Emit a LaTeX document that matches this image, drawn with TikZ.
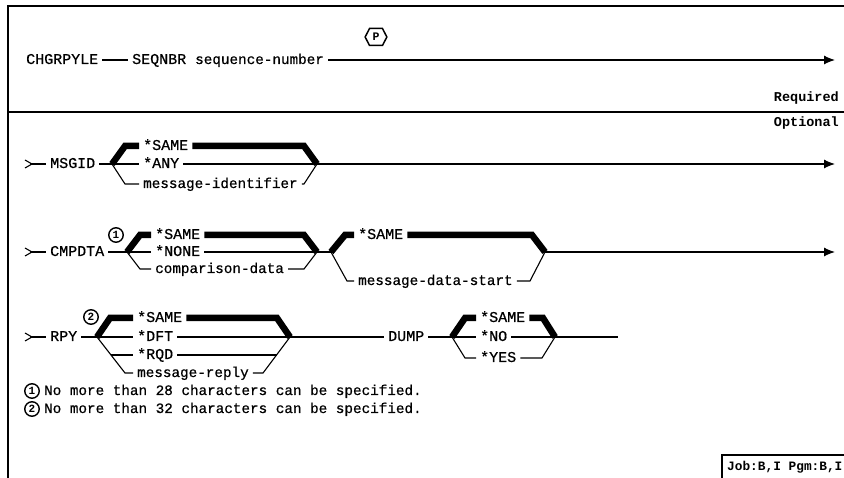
\documentclass[tikz,border=0pt]{standalone}
\usepackage{fontspec}
\newfontfamily\synfont[FakeBold=0.6]{Liberation Mono}
\newfontfamily\tagfont{Liberation Mono Bold}
\usetikzlibrary{calc,positioning,arrows.meta,shapes.symbols}

\tikzset{
    kw/.style={anchor=west, inner xsep=4pt, inner ysep=0pt, text height=9pt, text depth=1pt,
        font=\synfont\fontsize{15}{15}\selectfont},
    val/.style={kw, font=\synfont\fontsize{14.3}{14.3}\selectfont},
    tag/.style={inner sep=0pt, font=\tagfont\fontsize{13.5}{13.5}\selectfont},
    rail/.style={line width=1.1pt},
    dflt/.style={line width=6.5pt, line join=miter},
    endarrow/.style={rail, -{Latex[length=11pt,width=9pt]}},
    note/.style={circle, draw, line width=1.4pt, inner sep=0pt, minimum size=14.5pt,
        font=\tagfont\fontsize{11}{11}\selectfont},
    frame/.style={line width=1.6pt},
}

\begin{document}
\begin{tikzpicture}[x=1pt,y=-1pt]
    \useasboundingbox (0,0) rectangle (844,478);
    \draw[frame] (8,478) -- (8,6) -- (844,6);
    \draw[frame] (8,112) -- (844,112);
    \node[tag, anchor=east] (req) at (839,98) {Required};
    \node[tag, anchor=east] (opt) at (839,123) {Optional};

    \node[kw] (cmd) at (22,60) {CHGRPYLE};
    \node[kw] (seq) at (128,60) {SEQNBR \fontsize{14.3}{14.3}\selectfont sequence-number};
    \node[signal, signal to=west and east, signal pointer angle=125, draw, line width=1.5pt,
        inner xsep=3pt, inner ysep=5pt, text height=7pt, text depth=0pt,
        font=\tagfont\fontsize{11.5}{11.5}\selectfont] (prm) at (376,37) {P};
    \coordinate (end1) at (835,60);
    \draw[rail] (cmd) -- (seq);
    \draw[endarrow] (seq) -- (end1);

    \coordinate (t2) at (30,164);
    \node[kw] (msgid) at (46,164) {MSGID};
    \coordinate (m-l) at (112,164);
    \coordinate (m-r) at (317,164);
    \node[kw] (m-same) at (139,146) {*SAME};
    \node[kw] (m-any) at (139,164) {*ANY};
    \node[val] (m-id) at (139,184) {message-identifier};
    \coordinate (m-end) at (835,164);
    \draw[rail] ($(t2)+(-5,-4)$) -- ($(t2)+(2,0)$) -- ($(t2)+(-5,4)$);
    \draw[rail] (t2) -- (msgid) -- (m-l) -- (m-any) -- (m-r);
    \draw[rail] (m-l) -- +(13,20) -- (m-id) -- ($(m-r)+(-13,20)$) -- (m-r);
    \draw[dflt] (m-l) -- +(13,-18) -- (m-same) -- ($(m-r)+(-13,-18)$) -- (m-r);
    \draw[endarrow] (m-r) -- (m-end);

    \coordinate (t3) at (30,252);
    \node[kw] (cmp) at (46,252) {CMPDTA};
    \node[note] (n1) at (116,235) {1};
    \coordinate (c-l) at (127,252);
    \coordinate (c-r) at (317,252);
    \node[kw] (c-same) at (151,235) {*SAME};
    \node[kw] (c-none) at (151,252) {*NONE};
    \node[val] (c-data) at (151,269) {comparison-data};
    \coordinate (d-l) at (331,252);
    \coordinate (d-r) at (545,252);
    \node[kw] (d-same) at (354,235) {*SAME};
    \node[val] (d-start) at (354,281) {message-data-start};
    \coordinate (c-end) at (835,252);
    \draw[rail] ($(t3)+(-5,-4)$) -- ($(t3)+(2,0)$) -- ($(t3)+(-5,4)$);
    \draw[rail] (t3) -- (cmp) -- (c-l) -- (c-none) -- (c-r) -- (d-l);
    \draw[rail] (c-l) -- +(13,17) -- (c-data) -- ($(c-r)+(-13,17)$) -- (c-r);
    \draw[dflt] (c-l) -- +(13,-17) -- (c-same) -- ($(c-r)+(-13,-17)$) -- (c-r);
    \draw[rail] (d-l) -- +(16,29) -- (d-start) -- ($(d-r)+(-15,29)$) -- (d-r);
    \draw[dflt] (d-l) -- +(14,-17) -- (d-same) -- ($(d-r)+(-13,-17)$) -- (d-r);
    \draw[endarrow] (d-r) -- (c-end);

    \coordinate (t4) at (30,337);
    \node[kw] (rpy) at (46,337) {RPY};
    \node[note] (n2) at (91,317) {2};
    \coordinate (r-l) at (97,337);
    \coordinate (r-r) at (290,337);
    \node[kw] (r-same) at (133,318) {*SAME};
    \node[kw] (r-dft) at (133,337) {*DFT};
    \node[kw] (r-rqd) at (133,355) {*RQD};
    \node[val] (r-msg) at (133,373) {message-reply};
    \coordinate (r-lb) at ($(r-l)+(28,36)$);
    \coordinate (r-rb) at ($(r-r)+(-27,36)$);
    \draw[rail] ($(t4)+(-5,-4)$) -- ($(t4)+(2,0)$) -- ($(t4)+(-5,4)$);
    \draw[rail] (t4) -- (rpy) -- (r-l) -- (r-dft) -- (r-r);
    \draw[rail] (r-l) -- (r-lb) -- (r-msg) -- (r-rb) -- (r-r);
    \draw[rail] ($(r-l)!0.5!(r-lb)$) -- (r-rqd) -- ($(r-r)!0.5!(r-rb)$);
    \draw[dflt] (r-l) -- +(13,-19) -- (r-same) -- ($(r-r)+(-13,-19)$) -- (r-r);

    \node[kw] (dump) at (384,337) {DUMP};
    \coordinate (u-l) at (452,337);
    \coordinate (u-r) at (555,337);
    \node[kw] (u-same) at (476,318) {*SAME};
    \node[kw] (u-no) at (476,337) {*NO};
    \node[kw] (u-yes) at (476,358) {*YES};
    \coordinate (u-end) at (618,337);
    \draw[rail] (r-r) -- (dump) -- (u-l) -- (u-no) -- (u-r) -- (u-end);
    \draw[rail] (u-l) -- +(13,21) -- (u-yes) -- ($(u-r)+(-13,21)$) -- (u-r);
    \draw[dflt] (u-l) -- +(13,-19) -- (u-same) -- ($(u-r)+(-12,-19)$) -- (u-r);

    \node[note] (f1) at (32,391) {1};
    \node[val, right=0pt of f1] (f1t) {No more than 28 characters can be specified.};
    \node[note] (f2) at (32,409) {2};
    \node[val, right=0pt of f2] (f2t) {No more than 32 characters can be specified.};

    \draw[frame] (722,478) -- (722,455) -- (844,455);
    \node[tag, anchor=west, font=\tagfont\fontsize{12.8}{12.8}\selectfont] (job) at (727,467) {Job:B,I Pgm:B,I};
\end{tikzpicture}
\end{document}
